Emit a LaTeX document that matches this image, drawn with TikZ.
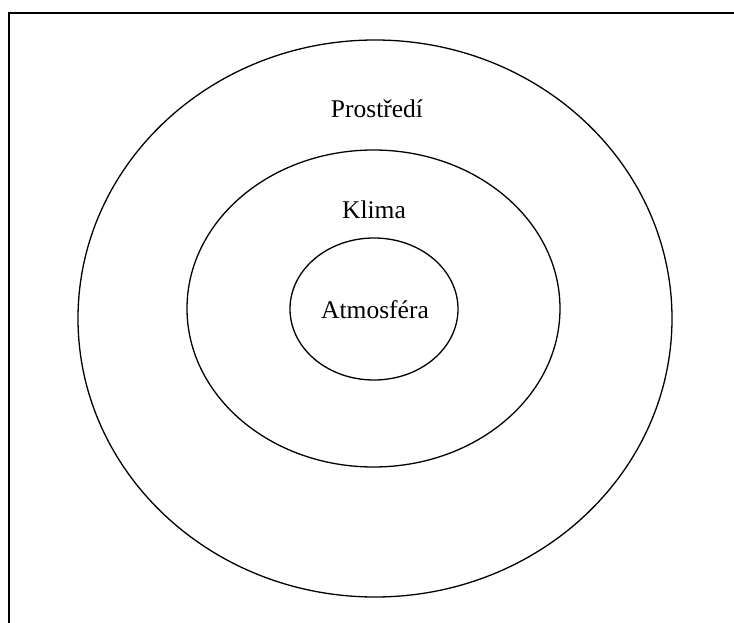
\documentclass[tikz,border=0pt]{standalone}
\usepackage{fontspec}
\setmainfont{Liberation Serif}
\begin{document}
\begin{tikzpicture}[x=1pt,y=-1pt,
  ring/.style={draw=black,line width=1.3pt},
  lbl/.style={font=\fontsize{25.5}{28}\selectfont,inner sep=0pt}]
\useasboundingbox (0,0) rectangle (734,623);
\draw[line width=2.4pt] (9,623) -- (9,13) -- (734,13);
\draw[ring] (375,318.5) ellipse [x radius=297, y radius=278.5];
\draw[ring] (373.5,308.5) ellipse [x radius=186.5, y radius=158.5];
\draw[ring] (374,309) ellipse [x radius=84, y radius=71];
\node[lbl] (prostredi) at (377,109) {Prostředí};
\node[lbl] (klima) at (374,210) {Klima};
\node[lbl] (atmosfera) at (375,310) {Atmosféra};
\end{tikzpicture}
\end{document}
